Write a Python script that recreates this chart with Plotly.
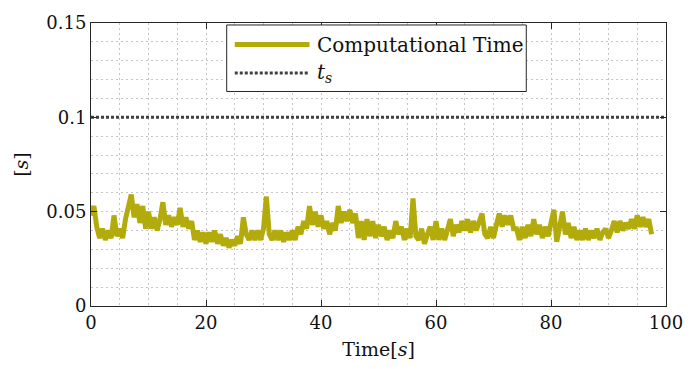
import plotly.graph_objects as go

# Computational time samples (one every 0.5 s)
comp_time = [
    0.048, 0.053, 0.042, 0.036, 0.041, 0.035, 0.040, 0.036, 0.048, 0.037,
    0.041, 0.036, 0.046, 0.052, 0.059, 0.047, 0.054, 0.044, 0.053, 0.041,
    0.050, 0.041, 0.047, 0.040, 0.046, 0.055, 0.043, 0.048, 0.042, 0.047,
    0.043, 0.052, 0.042, 0.047, 0.041, 0.045, 0.035, 0.040, 0.034, 0.039,
    0.033, 0.039, 0.034, 0.040, 0.033, 0.038, 0.032, 0.036, 0.031, 0.035,
    0.032, 0.037, 0.033, 0.047, 0.038, 0.035, 0.040, 0.035, 0.040, 0.035,
    0.041, 0.058, 0.038, 0.035, 0.040, 0.035, 0.040, 0.034, 0.039, 0.035,
    0.040, 0.035, 0.042, 0.038, 0.045, 0.041, 0.053, 0.043, 0.050, 0.042,
    0.048, 0.041, 0.045, 0.038, 0.044, 0.040, 0.053, 0.044, 0.050, 0.045,
    0.051, 0.044, 0.049, 0.036, 0.045, 0.035, 0.046, 0.037, 0.045, 0.036,
    0.043, 0.037, 0.042, 0.035, 0.040, 0.036, 0.045, 0.038, 0.042, 0.035,
    0.041, 0.036, 0.057, 0.037, 0.035, 0.041, 0.033, 0.038, 0.042, 0.035,
    0.045, 0.035, 0.041, 0.035, 0.042, 0.046, 0.037, 0.043, 0.039, 0.045,
    0.040, 0.046, 0.039, 0.045, 0.040, 0.044, 0.049, 0.038, 0.036, 0.042,
    0.036, 0.043, 0.049, 0.042, 0.048, 0.043, 0.048, 0.041, 0.041, 0.035,
    0.042, 0.036, 0.043, 0.037, 0.046, 0.038, 0.043, 0.036, 0.042, 0.037,
    0.043, 0.051, 0.034, 0.043, 0.050, 0.038, 0.044, 0.036, 0.042, 0.035,
    0.040, 0.035, 0.041, 0.035, 0.040, 0.036, 0.041, 0.035, 0.039, 0.041,
    0.036, 0.040, 0.045, 0.039, 0.045, 0.040, 0.044, 0.041, 0.046, 0.041,
    0.048, 0.042, 0.047, 0.042, 0.046, 0.038,
]
sample_period = 0.5
time = [i * sample_period for i in range(len(comp_time))]

ts_value = 0.1
ts_time = [0, 100]

x_ticks = [0, 20, 40, 60, 80, 100]
y_ticks = [0, 0.05, 0.1, 0.15]
y_tick_labels = ["0", "0.05", "0.1", "0.15"]

FONT = "DejaVu Serif"
LINE_COLOR = "#b3aa0c"
TS_COLOR = "#404040"
AXIS_COLOR = "#262626"
GRID_COLOR = "#c4c4c4"
TEXT_COLOR = "#111111"
GRID_DASH = "2px,3px"

fig = go.Figure()
fig.add_trace(go.Scatter(x=time, y=comp_time, mode="lines",
                         line=dict(color=LINE_COLOR, width=5),
                         name="Computational Time", showlegend=False))
fig.add_trace(go.Scatter(x=ts_time, y=[ts_value, ts_value], mode="lines",
                         line=dict(color=TS_COLOR, width=3, dash="3px,2px"),
                         name="ts", showlegend=False))

axis_common = dict(
    showline=True, linecolor=AXIS_COLOR, linewidth=1, mirror="ticks",
    ticks="inside", ticklen=6, tickcolor=AXIS_COLOR, tickwidth=1,
    showgrid=True, gridcolor=GRID_COLOR, griddash=GRID_DASH, gridwidth=1,
    zeroline=False, ticklabeloverflow="allow",
    tickfont=dict(family=FONT, size=18, color=TEXT_COLOR),
)

fig.update_xaxes(range=[0, 100], tickvals=x_ticks,
                 minor=dict(dtick=5, showgrid=True, gridcolor=GRID_COLOR,
                            griddash=GRID_DASH, gridwidth=1),
                 title=dict(text="Time[<i>s</i>]", font=dict(family=FONT, size=19, color=TEXT_COLOR),
                            standoff=11),
                 **axis_common)
fig.update_yaxes(range=[0, 0.15], tickvals=y_ticks, ticktext=y_tick_labels,
                 minor=dict(dtick=0.01, showgrid=True, gridcolor=GRID_COLOR,
                            griddash=GRID_DASH, gridwidth=1),
                 title=dict(text="[<i>s</i>]", font=dict(family=FONT, size=19, color=TEXT_COLOR),
                            standoff=12),
                 **axis_common)

# legend drawn manually (box + samples + labels)
lx0, lx1, ly0, ly1 = 0.236, 0.757, 0.758, 0.993
shapes = [
    dict(type="rect", xref="paper", yref="paper", x0=lx0, x1=lx1, y0=ly0, y1=ly1,
         fillcolor="white", line=dict(color=AXIS_COLOR, width=1), layer="above"),
    dict(type="line", xref="paper", yref="paper", x0=0.250, x1=0.380, y0=0.924, y1=0.924,
         line=dict(color=LINE_COLOR, width=5), layer="above"),
    dict(type="line", xref="paper", yref="paper", x0=0.250, x1=0.380, y0=0.8235, y1=0.8235,
         line=dict(color=TS_COLOR, width=3, dash="3px,2px"), layer="above"),
]
annotations = [
    dict(xref="paper", yref="paper", x=0.389, y=0.924, text="Computational Time",
         showarrow=False, xanchor="left", yanchor="middle",
         font=dict(family=FONT, size=20, color=TEXT_COLOR)),
    dict(xref="paper", yref="paper", x=0.389, y=0.8235, text="<i>t</i><sub><i>s</i></sub>",
         showarrow=False, xanchor="left", yanchor="middle",
         font=dict(family=FONT, size=20, color=TEXT_COLOR)),
]

fig.update_layout(
    width=695, height=369,
    margin=dict(l=91, r=15, t=18, b=62),
    paper_bgcolor="white", plot_bgcolor="white",
    font=dict(family=FONT),
    shapes=shapes, annotations=annotations,
    showlegend=False,
)

fig.write_html("out.html")
